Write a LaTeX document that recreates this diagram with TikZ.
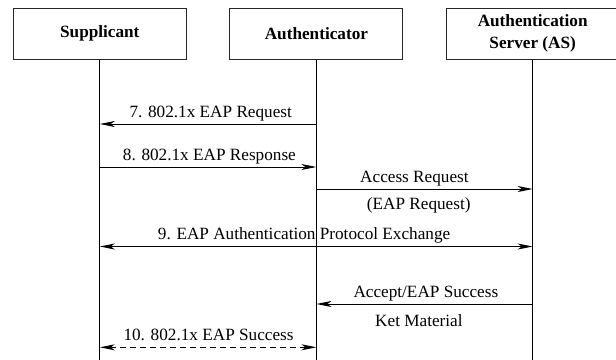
\documentclass[tikz,border=0pt]{standalone}
\usepackage{fontspec}
\setmainfont{Liberation Serif}
\usetikzlibrary{arrows.meta}
\begin{document}
\begin{tikzpicture}[x=1pt,y=-1pt,
  every node/.style={font=\fontsize{17.2}{22}\selectfont},
  actor/.style={draw=black!85, line width=0.9pt, minimum width=173pt, minimum height=51pt,
    inner sep=0pt, align=center, font=\fontsize{17.2}{22}\selectfont\bfseries},
  lifeline/.style={line width=0.9pt},
  tip/.style={Stealth[length=15pt,width=6pt,inset=4pt]},
  msg/.style={line width=1pt, -{Stealth[length=15pt,width=6pt,inset=4pt]}},
  bimsg/.style={line width=1pt, {Stealth[length=15pt,width=6pt,inset=4pt]}-{Stealth[length=15pt,width=6pt,inset=4pt]}},
  lbl/.style={anchor=base west, inner sep=0pt}]
  \useasboundingbox (0,0) rectangle (616,359);
  \clip (0,0) rectangle (616,359);

  % participants
  \node[actor] (sup) at (99.8,33.8) {Supplicant};
  \node[actor] (aut) at (316.4,33.8) {Authenticator};
  \node[actor] (as)  at (532.7,33.8) {Authentication\\Server (AS)};

  % lifelines
  \coordinate (supend) at (sup.south |- 0,360);
  \coordinate (autend) at (aut.south |- 0,360);
  \coordinate (asend)  at (as.south  |- 0,360);
  \draw[lifeline] (sup.south) -- (supend);
  \draw[lifeline] (aut.south) -- (autend);
  \draw[lifeline] (as.south)  -- (asend);

  % 7: authenticator -> supplicant
  \draw[msg] (aut.south |- 0,124) -- (sup.south |- 0,124);
  \node[lbl] (l7) at (129.3,117.3) {7. 802.1x EAP Request};

  % 8: supplicant -> authenticator
  \draw[msg] (sup.south |- 0,167) -- (aut.south |- 0,167);
  \node[lbl] (l8) at (122.7,160.5) {8. 802.1x EAP Response};

  % access request to the server
  \draw[msg] (aut.south |- 0,189) -- (as.south |- 0,189);
  \node[lbl] (lar) at (360,182.5) {Access Request};
  \node[lbl] (lar2) at (366.7,209.5) {(EAP Request)};

  % 9: end-to-end exchange
  \draw[bimsg] (sup.south |- 0,246.5) -- (as.south |- 0,246.5);
  \node[lbl] (l9) at (157.7,239) {9. EAP Authentication Protocol Exchange};

  % accept from the server
  \draw[msg] (as.south |- 0,304) -- (aut.south |- 0,304);
  \node[lbl] (lacc) at (353.3,297.5) {Accept/EAP Success};
  \node[lbl] (lkey) at (375,326) {Ket Material};

  % 10: success
  \draw[bimsg, dash pattern=on 6pt off 4pt] (sup.south |- 0,347.3) -- (aut.south |- 0,347.3);
  \node[lbl] (l10) at (123.3,340) {10. 802.1x EAP Success};
\end{tikzpicture}
\end{document}
